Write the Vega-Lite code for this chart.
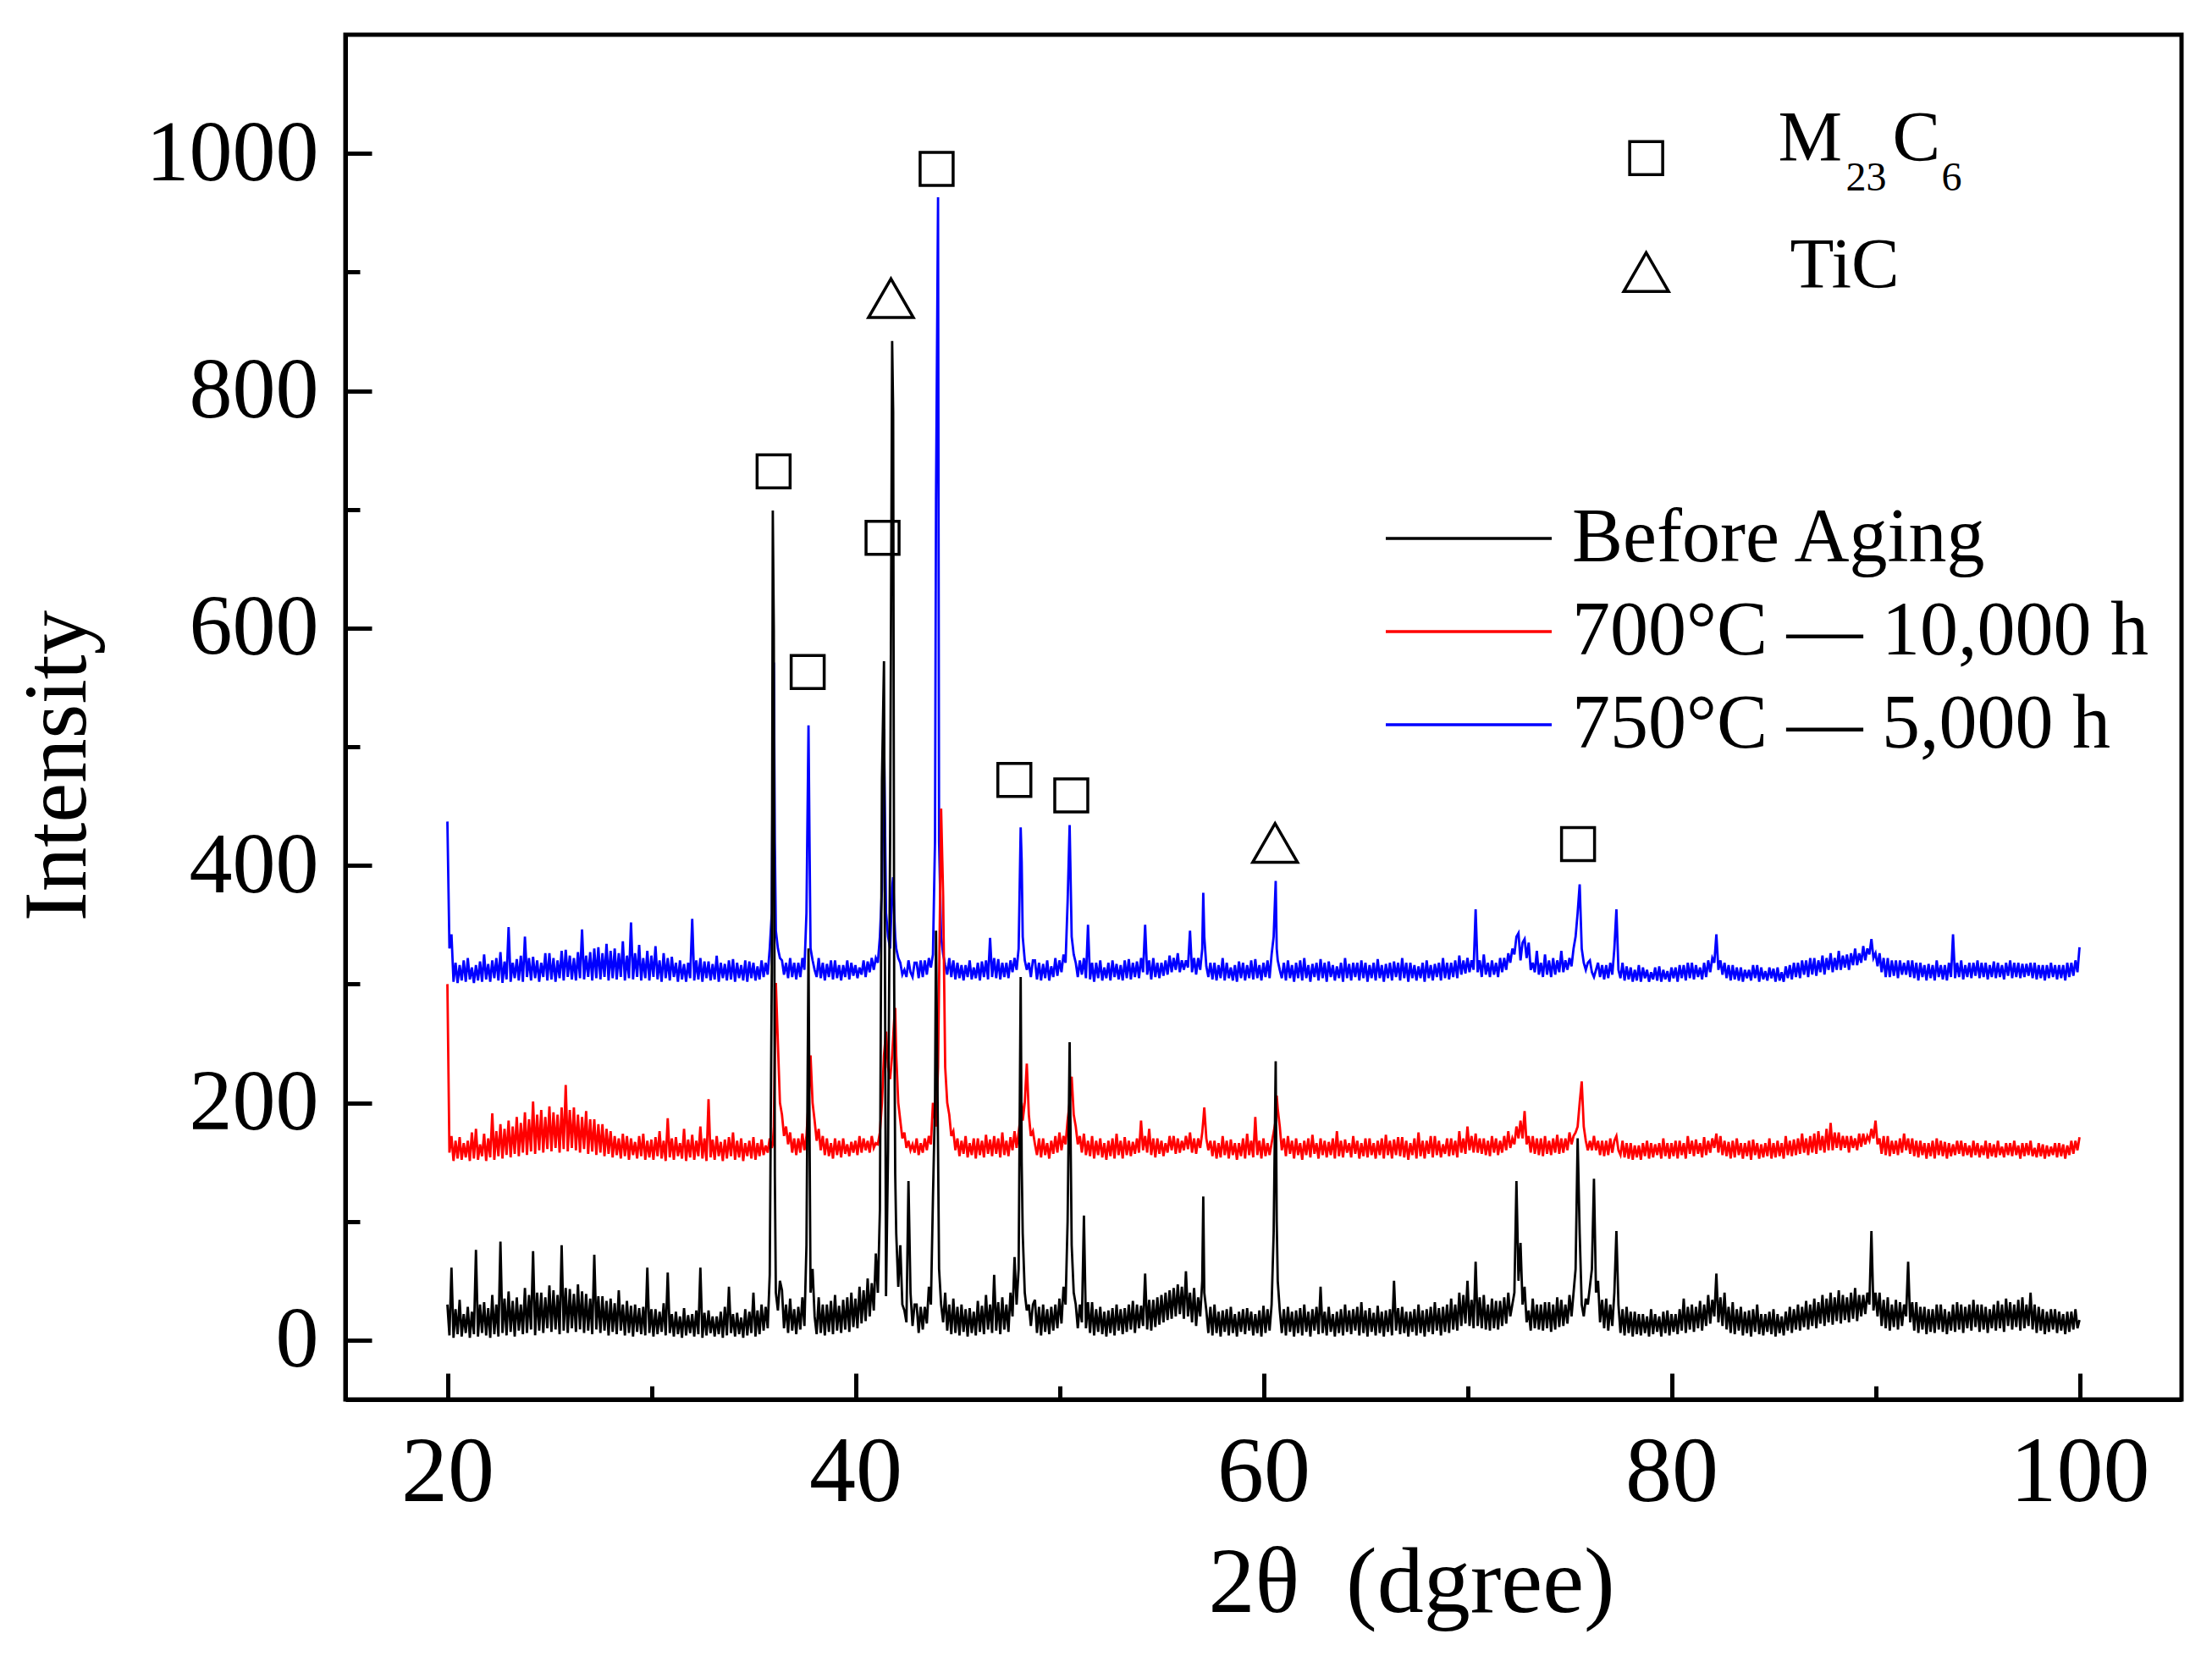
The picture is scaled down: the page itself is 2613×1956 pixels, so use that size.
{
  "$schema": "https://vega.github.io/schema/vega-lite/v6.json",
  "width": 2169,
  "height": 1612,
  "autosize": {"type": "none"},
  "padding": {"left": 408, "top": 41, "right": 36, "bottom": 303},
  "background": "white",
  "config": {
    "font": "Liberation Serif",
    "view": {"stroke": "black", "strokeWidth": 5},
    "axis": {
      "grid": false,
      "domainColor": "black",
      "domainWidth": 5,
      "tickColor": "black",
      "tickWidth": 5,
      "labelColor": "black",
      "labelFlush": false,
      "labelOverlap": false,
      "labelLimit": 0,
      "titleColor": "black",
      "titleFontWeight": "normal"
    }
  },
  "data": {
    "values": [
      {"t":20.0,"b":30,"r":300,"u":437},{"t":20.1,"b":4,"r":158,"u":330},{"t":20.2,"b":61,"r":172,"u":342},{"t":20.3,"b":2,"r":151,"u":302},{"t":20.4,"b":26,"r":168,"u":318},
      {"t":20.5,"b":5,"r":153,"u":301},{"t":20.6,"b":34,"r":171,"u":316},{"t":20.7,"b":3,"r":152,"u":303},{"t":20.8,"b":22,"r":166,"u":320},{"t":20.9,"b":6,"r":154,"u":302},
      {"t":21.0,"b":28,"r":168,"u":322},{"t":21.1,"b":2,"r":151,"u":304},{"t":21.2,"b":24,"r":175,"u":314},{"t":21.3,"b":5,"r":153,"u":301},{"t":21.4,"b":76,"r":178,"u":316},
      {"t":21.5,"b":3,"r":152,"u":303},{"t":21.6,"b":30,"r":165,"u":319},{"t":21.7,"b":6,"r":155,"u":302},{"t":21.8,"b":32,"r":174,"u":325},{"t":21.9,"b":4,"r":151,"u":304},
      {"t":22.0,"b":27,"r":170,"u":317},{"t":22.1,"b":2,"r":154,"u":302},{"t":22.2,"b":38,"r":191,"u":320},{"t":22.3,"b":5,"r":152,"u":305},{"t":22.4,"b":30,"r":176,"u":322},
      {"t":22.5,"b":3,"r":155,"u":303},{"t":22.6,"b":83,"r":182,"u":327},{"t":22.7,"b":6,"r":153,"u":301},{"t":22.8,"b":35,"r":178,"u":319},{"t":22.9,"b":4,"r":156,"u":304},
      {"t":23.0,"b":41,"r":185,"u":348},{"t":23.1,"b":7,"r":154,"u":302},{"t":23.2,"b":33,"r":180,"u":318},{"t":23.3,"b":3,"r":157,"u":305},{"t":23.4,"b":36,"r":188,"u":321},
      {"t":23.5,"b":8,"r":155,"u":303},{"t":23.6,"b":30,"r":183,"u":324},{"t":23.7,"b":5,"r":158,"u":302},{"t":23.8,"b":44,"r":192,"u":340},{"t":23.9,"b":6,"r":156,"u":306},
      {"t":24.0,"b":38,"r":186,"u":322},{"t":24.1,"b":9,"r":159,"u":303},{"t":24.2,"b":75,"r":201,"u":323},{"t":24.3,"b":4,"r":157,"u":305},{"t":24.4,"b":40,"r":190,"u":320},
      {"t":24.5,"b":8,"r":160,"u":302},{"t":24.6,"b":40,"r":194,"u":318},{"t":24.7,"b":6,"r":158,"u":306},{"t":24.8,"b":36,"r":188,"u":326},{"t":24.9,"b":10,"r":161,"u":303},
      {"t":25.0,"b":46,"r":197,"u":326},{"t":25.1,"b":7,"r":159,"u":304},{"t":25.2,"b":42,"r":192,"u":322},{"t":25.3,"b":9,"r":162,"u":302},{"t":25.4,"b":38,"r":190,"u":320},
      {"t":25.5,"b":5,"r":158,"u":305},{"t":25.6,"b":80,"r":196,"u":328},{"t":25.7,"b":8,"r":161,"u":303},{"t":25.8,"b":44,"r":215,"u":329},{"t":25.9,"b":6,"r":159,"u":306},
      {"t":26.0,"b":43,"r":194,"u":324},{"t":26.1,"b":10,"r":162,"u":304},{"t":26.2,"b":39,"r":196,"u":322},{"t":26.3,"b":7,"r":160,"u":303},{"t":26.4,"b":47,"r":190,"u":327},
      {"t":26.5,"b":9,"r":158,"u":305},{"t":26.6,"b":41,"r":188,"u":346},{"t":26.7,"b":6,"r":161,"u":304},{"t":26.8,"b":39,"r":193,"u":324},{"t":26.9,"b":8,"r":157,"u":306},
      {"t":27.0,"b":35,"r":186,"u":327},{"t":27.1,"b":5,"r":159,"u":303},{"t":27.2,"b":72,"r":186,"u":330},{"t":27.3,"b":9,"r":156,"u":305},{"t":27.4,"b":37,"r":182,"u":331},
      {"t":27.5,"b":6,"r":158,"u":304},{"t":27.6,"b":37,"r":182,"u":326},{"t":27.7,"b":8,"r":155,"u":306},{"t":27.8,"b":33,"r":178,"u":334},{"t":27.9,"b":4,"r":157,"u":303},
      {"t":28.0,"b":35,"r":176,"u":328},{"t":28.1,"b":7,"r":154,"u":305},{"t":28.2,"b":31,"r":172,"u":330},{"t":28.3,"b":5,"r":156,"u":304},{"t":28.4,"b":42,"r":170,"u":326},
      {"t":28.5,"b":8,"r":153,"u":306},{"t":28.6,"b":30,"r":174,"u":336},{"t":28.7,"b":4,"r":155,"u":303},{"t":28.8,"b":33,"r":172,"u":324},{"t":28.9,"b":6,"r":152,"u":305},
      {"t":29.0,"b":29,"r":170,"u":352},{"t":29.1,"b":3,"r":156,"u":304},{"t":29.2,"b":30,"r":167,"u":326},{"t":29.3,"b":7,"r":153,"u":306},{"t":29.4,"b":27,"r":172,"u":333},
      {"t":29.5,"b":5,"r":155,"u":303},{"t":29.6,"b":28,"r":174,"u":322},{"t":29.7,"b":4,"r":152,"u":305},{"t":29.8,"b":61,"r":168,"u":328},{"t":29.9,"b":6,"r":154,"u":303},
      {"t":30.0,"b":26,"r":169,"u":324},{"t":30.1,"b":3,"r":152,"u":306},{"t":30.2,"b":26,"r":171,"u":332},{"t":30.3,"b":5,"r":155,"u":304},{"t":30.4,"b":24,"r":176,"u":320},
      {"t":30.5,"b":7,"r":153,"u":302},{"t":30.6,"b":31,"r":168,"u":326},{"t":30.7,"b":4,"r":151,"u":305},{"t":30.8,"b":57,"r":187,"u":322},{"t":30.9,"b":6,"r":154,"u":303},
      {"t":31.0,"b":22,"r":170,"u":323},{"t":31.1,"b":3,"r":152,"u":306},{"t":31.2,"b":24,"r":171,"u":318},{"t":31.3,"b":5,"r":155,"u":302},{"t":31.4,"b":20,"r":166,"u":320},
      {"t":31.5,"b":2,"r":153,"u":304},{"t":31.6,"b":27,"r":178,"u":317},{"t":31.7,"b":4,"r":151,"u":302},{"t":31.8,"b":21,"r":169,"u":318},{"t":31.9,"b":6,"r":154,"u":305},
      {"t":32.0,"b":22,"r":173,"u":355},{"t":32.1,"b":3,"r":152,"u":303},{"t":32.2,"b":25,"r":168,"u":320},{"t":32.3,"b":5,"r":155,"u":304},{"t":32.4,"b":61,"r":180,"u":322},
      {"t":32.5,"b":2,"r":153,"u":302},{"t":32.6,"b":23,"r":170,"u":319},{"t":32.7,"b":4,"r":151,"u":305},{"t":32.8,"b":25,"r":203,"u":319},{"t":32.9,"b":6,"r":154,"u":303},
      {"t":33.0,"b":20,"r":169,"u":317},{"t":33.1,"b":3,"r":152,"u":304},{"t":33.2,"b":20,"r":172,"u":324},{"t":33.3,"b":5,"r":155,"u":302},{"t":33.4,"b":24,"r":167,"u":318},
      {"t":33.5,"b":2,"r":151,"u":305},{"t":33.6,"b":28,"r":169,"u":317},{"t":33.7,"b":4,"r":153,"u":303},{"t":33.8,"b":45,"r":171,"u":320},{"t":33.9,"b":6,"r":155,"u":304},
      {"t":34.0,"b":22,"r":175,"u":321},{"t":34.1,"b":3,"r":152,"u":302},{"t":34.2,"b":23,"r":168,"u":318},{"t":34.3,"b":5,"r":154,"u":305},{"t":34.4,"b":19,"r":170,"u":316},
      {"t":34.5,"b":2,"r":151,"u":303},{"t":34.6,"b":26,"r":166,"u":320},{"t":34.7,"b":4,"r":155,"u":302},{"t":34.8,"b":24,"r":168,"u":319},{"t":34.9,"b":6,"r":153,"u":305},
      {"t":35.0,"b":40,"r":171,"u":318},{"t":35.1,"b":3,"r":152,"u":303},{"t":35.2,"b":25,"r":166,"u":315},{"t":35.3,"b":5,"r":155,"u":304},{"t":35.4,"b":30,"r":169,"u":320},
      {"t":35.5,"b":8,"r":156,"u":306},{"t":35.6,"b":28,"r":164,"u":318},{"t":35.7,"b":10,"r":158,"u":308},{"t":35.8,"b":55,"r":170,"u":330},{"t":35.9,"b":310,"r":162,"u":360},
      {"t":35.95,"b":699,"r":165,"u":500},{"t":36.0,"b":598,"r":180,"u":571},{"t":36.05,"b":140,"r":240,"u":420},{"t":36.1,"b":40,"r":301,"u":345},{"t":36.2,"b":25,"r":250,"u":330},
      {"t":36.3,"b":50,"r":200,"u":322},{"t":36.4,"b":42,"r":190,"u":320},{"t":36.5,"b":10,"r":172,"u":308},{"t":36.6,"b":30,"r":180,"u":318},{"t":36.7,"b":6,"r":165,"u":305},
      {"t":36.8,"b":35,"r":175,"u":322},{"t":36.9,"b":8,"r":158,"u":306},{"t":37.0,"b":26,"r":170,"u":318},{"t":37.1,"b":5,"r":156,"u":304},{"t":37.2,"b":28,"r":170,"u":318},
      {"t":37.3,"b":9,"r":158,"u":306},{"t":37.4,"b":36,"r":174,"u":322},{"t":37.5,"b":12,"r":160,"u":312},{"t":37.6,"b":80,"r":172,"u":360},{"t":37.7,"b":330,"r":200,"u":518},
      {"t":37.75,"b":180,"r":215,"u":420},{"t":37.8,"b":40,"r":240,"u":330},{"t":37.9,"b":60,"r":200,"u":320},{"t":38.0,"b":20,"r":185,"u":312},{"t":38.1,"b":5,"r":168,"u":306},
      {"t":38.2,"b":36,"r":178,"u":322},{"t":38.3,"b":6,"r":160,"u":305},{"t":38.4,"b":30,"r":172,"u":318},{"t":38.5,"b":4,"r":156,"u":303},{"t":38.6,"b":30,"r":170,"u":317},
      {"t":38.7,"b":7,"r":155,"u":306},{"t":38.8,"b":33,"r":166,"u":320},{"t":38.9,"b":5,"r":153,"u":304},{"t":39.0,"b":38,"r":170,"u":320},{"t":39.1,"b":8,"r":156,"u":305},
      {"t":39.2,"b":29,"r":168,"u":316},{"t":39.3,"b":6,"r":154,"u":303},{"t":39.4,"b":34,"r":170,"u":316},{"t":39.5,"b":9,"r":157,"u":306},{"t":39.6,"b":36,"r":165,"u":320},
      {"t":39.7,"b":7,"r":155,"u":304},{"t":39.8,"b":40,"r":167,"u":318},{"t":39.9,"b":11,"r":158,"u":307},{"t":40.0,"b":35,"r":168,"u":316},{"t":40.1,"b":10,"r":156,"u":305},
      {"t":40.2,"b":45,"r":172,"u":314},{"t":40.3,"b":14,"r":158,"u":308},{"t":40.4,"b":42,"r":170,"u":320},{"t":40.5,"b":16,"r":160,"u":306},{"t":40.6,"b":52,"r":168,"u":319},
      {"t":40.7,"b":20,"r":158,"u":310},{"t":40.8,"b":48,"r":172,"u":322},{"t":40.9,"b":25,"r":162,"u":312},{"t":41.0,"b":73,"r":166,"u":322},{"t":41.1,"b":40,"r":165,"u":318},
      {"t":41.2,"b":110,"r":175,"u":340},{"t":41.3,"b":471,"r":200,"u":380},{"t":41.4,"b":572,"r":240,"u":515},{"t":41.5,"b":37,"r":260,"u":360},{"t":41.6,"b":160,"r":230,"u":340},
      {"t":41.7,"b":420,"r":220,"u":330},{"t":41.8,"b":842,"r":240,"u":381},{"t":41.85,"b":782,"r":255,"u":390},{"t":41.9,"b":300,"r":270,"u":360},{"t":41.95,"b":140,"r":280,"u":340},
      {"t":42.0,"b":90,"r":240,"u":330},{"t":42.1,"b":45,"r":200,"u":322},{"t":42.2,"b":80,"r":185,"u":318},{"t":42.3,"b":30,"r":170,"u":308},{"t":42.4,"b":25,"r":175,"u":312},
      {"t":42.5,"b":15,"r":162,"u":306},{"t":42.6,"b":134,"r":168,"u":320},{"t":42.7,"b":40,"r":160,"u":310},{"t":42.8,"b":12,"r":165,"u":306},{"t":42.9,"b":30,"r":158,"u":318},
      {"t":43.0,"b":30,"r":170,"u":318},{"t":43.1,"b":6,"r":156,"u":305},{"t":43.2,"b":28,"r":166,"u":320},{"t":43.3,"b":9,"r":158,"u":306},{"t":43.4,"b":28,"r":170,"u":320},
      {"t":43.5,"b":14,"r":160,"u":308},{"t":43.6,"b":45,"r":172,"u":322},{"t":43.7,"b":30,"r":165,"u":314},{"t":43.8,"b":120,"r":200,"u":325},{"t":43.9,"b":200,"r":185,"u":420},
      {"t":43.95,"b":345,"r":180,"u":709},{"t":44.05,"b":160,"r":230,"u":963},{"t":44.1,"b":60,"r":300,"u":420},{"t":44.2,"b":30,"r":448,"u":340},{"t":44.3,"b":15,"r":374,"u":325},
      {"t":44.4,"b":40,"r":230,"u":316},{"t":44.5,"b":8,"r":200,"u":308},{"t":44.6,"b":30,"r":190,"u":322},{"t":44.7,"b":5,"r":172,"u":306},{"t":44.8,"b":35,"r":176,"u":320},
      {"t":44.9,"b":6,"r":160,"u":304},{"t":45.0,"b":28,"r":170,"u":318},{"t":45.1,"b":4,"r":155,"u":305},{"t":45.2,"b":30,"r":168,"u":316},{"t":45.3,"b":7,"r":157,"u":303},
      {"t":45.4,"b":26,"r":172,"u":316},{"t":45.5,"b":3,"r":154,"u":306},{"t":45.6,"b":27,"r":166,"u":320},{"t":45.7,"b":6,"r":156,"u":304},{"t":45.8,"b":24,"r":170,"u":314},
      {"t":45.9,"b":4,"r":153,"u":305},{"t":46.0,"b":33,"r":170,"u":318},{"t":46.1,"b":7,"r":156,"u":303},{"t":46.2,"b":29,"r":168,"u":319},{"t":46.3,"b":5,"r":154,"u":306},
      {"t":46.4,"b":38,"r":173,"u":320},{"t":46.5,"b":9,"r":157,"u":304},{"t":46.6,"b":30,"r":169,"u":339},{"t":46.7,"b":6,"r":155,"u":306},{"t":46.8,"b":55,"r":172,"u":322},
      {"t":46.9,"b":8,"r":157,"u":305},{"t":47.0,"b":32,"r":170,"u":321},{"t":47.1,"b":5,"r":154,"u":304},{"t":47.2,"b":36,"r":175,"u":318},{"t":47.3,"b":9,"r":156,"u":306},
      {"t":47.4,"b":30,"r":168,"u":318},{"t":47.5,"b":7,"r":155,"u":305},{"t":47.6,"b":40,"r":171,"u":320},{"t":47.7,"b":20,"r":160,"u":310},{"t":47.8,"b":70,"r":176,"u":322},
      {"t":47.9,"b":30,"r":162,"u":312},{"t":48.0,"b":60,"r":175,"u":330},{"t":48.1,"b":306,"r":190,"u":432},{"t":48.15,"b":150,"r":200,"u":403},{"t":48.2,"b":90,"r":185,"u":340},
      {"t":48.3,"b":40,"r":200,"u":320},{"t":48.4,"b":25,"r":233,"u":312},{"t":48.5,"b":30,"r":190,"u":318},{"t":48.6,"b":12,"r":172,"u":306},{"t":48.7,"b":30,"r":176,"u":320},
      {"t":48.8,"b":34,"r":165,"u":320},{"t":48.9,"b":6,"r":156,"u":304},{"t":49.0,"b":28,"r":170,"u":318},{"t":49.1,"b":4,"r":154,"u":303},{"t":49.2,"b":30,"r":170,"u":317},
      {"t":49.3,"b":7,"r":156,"u":305},{"t":49.4,"b":26,"r":166,"u":320},{"t":49.5,"b":5,"r":153,"u":303},{"t":49.6,"b":28,"r":168,"u":315},{"t":49.7,"b":8,"r":157,"u":306},
      {"t":49.8,"b":30,"r":172,"u":322},{"t":49.9,"b":10,"r":158,"u":307},{"t":50.0,"b":35,"r":175,"u":320},{"t":50.1,"b":14,"r":160,"u":310},{"t":50.2,"b":45,"r":172,"u":325},
      {"t":50.3,"b":30,"r":165,"u":318},{"t":50.4,"b":100,"r":185,"u":369},{"t":50.5,"b":251,"r":200,"u":434},{"t":50.6,"b":80,"r":222,"u":340},{"t":50.7,"b":40,"r":190,"u":325},
      {"t":50.8,"b":30,"r":180,"u":318},{"t":50.9,"b":10,"r":165,"u":306},{"t":51.0,"b":30,"r":172,"u":320},{"t":51.1,"b":15,"r":158,"u":308},{"t":51.2,"b":105,"r":174,"u":322},
      {"t":51.3,"b":10,"r":156,"u":305},{"t":51.4,"b":32,"r":168,"u":350},{"t":51.5,"b":6,"r":155,"u":304},{"t":51.6,"b":32,"r":172,"u":318},{"t":51.7,"b":4,"r":153,"u":302},
      {"t":51.8,"b":26,"r":168,"u":318},{"t":51.9,"b":7,"r":156,"u":305},{"t":52.0,"b":28,"r":170,"u":320},{"t":52.1,"b":5,"r":154,"u":303},{"t":52.2,"b":24,"r":166,"u":314},
      {"t":52.3,"b":3,"r":152,"u":305},{"t":52.4,"b":25,"r":168,"u":318},{"t":52.5,"b":6,"r":155,"u":303},{"t":52.6,"b":27,"r":170,"u":320},{"t":52.7,"b":4,"r":153,"u":306},
      {"t":52.8,"b":30,"r":174,"u":317},{"t":52.9,"b":8,"r":156,"u":304},{"t":53.0,"b":26,"r":168,"u":316},{"t":53.1,"b":5,"r":153,"u":303},{"t":53.2,"b":27,"r":171,"u":320},
      {"t":53.3,"b":7,"r":156,"u":305},{"t":53.4,"b":30,"r":168,"u":321},{"t":53.5,"b":9,"r":155,"u":304},{"t":53.6,"b":33,"r":167,"u":318},{"t":53.7,"b":6,"r":157,"u":306},
      {"t":53.8,"b":30,"r":170,"u":319},{"t":53.9,"b":10,"r":158,"u":305},{"t":54.0,"b":29,"r":185,"u":322},{"t":54.1,"b":12,"r":160,"u":310},{"t":54.2,"b":56,"r":172,"u":350},
      {"t":54.3,"b":9,"r":158,"u":308},{"t":54.4,"b":34,"r":178,"u":320},{"t":54.5,"b":8,"r":156,"u":304},{"t":54.6,"b":34,"r":170,"u":322},{"t":54.7,"b":11,"r":154,"u":306},
      {"t":54.8,"b":36,"r":170,"u":318},{"t":54.9,"b":13,"r":157,"u":305},{"t":55.0,"b":38,"r":168,"u":318},{"t":55.1,"b":15,"r":155,"u":307},{"t":55.2,"b":40,"r":166,"u":320},
      {"t":55.3,"b":17,"r":158,"u":308},{"t":55.4,"b":42,"r":172,"u":324},{"t":55.5,"b":18,"r":160,"u":310},{"t":55.6,"b":44,"r":172,"u":322},{"t":55.7,"b":20,"r":157,"u":312},
      {"t":55.8,"b":47,"r":170,"u":326},{"t":55.9,"b":22,"r":158,"u":310},{"t":56.0,"b":45,"r":168,"u":320},{"t":56.1,"b":18,"r":160,"u":312},{"t":56.2,"b":58,"r":172,"u":320},
      {"t":56.3,"b":20,"r":161,"u":314},{"t":56.4,"b":40,"r":175,"u":345},{"t":56.5,"b":15,"r":158,"u":310},{"t":56.6,"b":44,"r":170,"u":322},{"t":56.7,"b":12,"r":157,"u":308},
      {"t":56.8,"b":36,"r":170,"u":322},{"t":56.9,"b":20,"r":162,"u":312},{"t":57.0,"b":50,"r":175,"u":330},{"t":57.05,"b":121,"r":185,"u":377},{"t":57.1,"b":40,"r":196,"u":340},
      {"t":57.2,"b":25,"r":170,"u":315},{"t":57.3,"b":6,"r":160,"u":306},{"t":57.4,"b":28,"r":168,"u":318},{"t":57.5,"b":4,"r":155,"u":304},{"t":57.6,"b":30,"r":168,"u":318},
      {"t":57.7,"b":6,"r":153,"u":303},{"t":57.8,"b":24,"r":166,"u":316},{"t":57.9,"b":3,"r":154,"u":305},{"t":58.0,"b":25,"r":172,"u":322},{"t":58.1,"b":7,"r":156,"u":303},
      {"t":58.2,"b":26,"r":168,"u":318},{"t":58.3,"b":4,"r":153,"u":305},{"t":58.4,"b":28,"r":169,"u":314},{"t":58.5,"b":6,"r":156,"u":303},{"t":58.6,"b":22,"r":166,"u":316},
      {"t":58.7,"b":3,"r":152,"u":302},{"t":58.8,"b":24,"r":166,"u":319},{"t":58.9,"b":7,"r":155,"u":305},{"t":59.0,"b":26,"r":170,"u":318},{"t":59.1,"b":5,"r":153,"u":303},
      {"t":59.2,"b":27,"r":174,"u":316},{"t":59.3,"b":8,"r":156,"u":305},{"t":59.4,"b":24,"r":168,"u":320},{"t":59.5,"b":4,"r":154,"u":304},{"t":59.6,"b":22,"r":188,"u":321},
      {"t":59.7,"b":6,"r":156,"u":305},{"t":59.8,"b":25,"r":168,"u":316},{"t":59.9,"b":3,"r":153,"u":303},{"t":60.0,"b":29,"r":170,"u":318},{"t":60.1,"b":6,"r":155,"u":306},
      {"t":60.2,"b":26,"r":166,"u":320},{"t":60.3,"b":8,"r":156,"u":305},{"t":60.4,"b":30,"r":166,"u":325},{"t":60.5,"b":90,"r":175,"u":340},{"t":60.6,"b":235,"r":185,"u":387},
      {"t":60.65,"b":100,"r":206,"u":330},{"t":60.7,"b":50,"r":195,"u":320},{"t":60.8,"b":25,"r":180,"u":312},{"t":60.9,"b":6,"r":160,"u":305},{"t":61.0,"b":26,"r":170,"u":318},
      {"t":61.1,"b":4,"r":155,"u":303},{"t":61.2,"b":28,"r":172,"u":320},{"t":61.3,"b":7,"r":157,"u":305},{"t":61.4,"b":24,"r":168,"u":316},{"t":61.5,"b":3,"r":153,"u":302},
      {"t":61.6,"b":25,"r":170,"u":318},{"t":61.7,"b":6,"r":156,"u":305},{"t":61.8,"b":27,"r":166,"u":320},{"t":61.9,"b":4,"r":152,"u":303},{"t":62.0,"b":30,"r":168,"u":322},
      {"t":62.1,"b":7,"r":156,"u":305},{"t":62.2,"b":24,"r":170,"u":316},{"t":62.3,"b":3,"r":154,"u":302},{"t":62.4,"b":26,"r":173,"u":317},{"t":62.5,"b":8,"r":157,"u":306},
      {"t":62.6,"b":28,"r":166,"u":318},{"t":62.7,"b":5,"r":153,"u":303},{"t":62.8,"b":45,"r":170,"u":321},{"t":62.9,"b":6,"r":156,"u":305},{"t":63.0,"b":24,"r":168,"u":318},
      {"t":63.1,"b":4,"r":154,"u":302},{"t":63.2,"b":28,"r":167,"u":319},{"t":63.3,"b":7,"r":156,"u":306},{"t":63.4,"b":22,"r":170,"u":316},{"t":63.5,"b":3,"r":153,"u":303},
      {"t":63.6,"b":24,"r":176,"u":315},{"t":63.7,"b":6,"r":155,"u":305},{"t":63.8,"b":26,"r":168,"u":318},{"t":63.9,"b":4,"r":154,"u":302},{"t":64.0,"b":30,"r":169,"u":322},
      {"t":64.1,"b":7,"r":158,"u":305},{"t":64.2,"b":25,"r":166,"u":317},{"t":64.3,"b":5,"r":154,"u":303},{"t":64.4,"b":26,"r":172,"u":318},{"t":64.5,"b":8,"r":157,"u":306},
      {"t":64.6,"b":28,"r":168,"u":318},{"t":64.7,"b":4,"r":153,"u":303},{"t":64.8,"b":32,"r":166,"u":320},{"t":64.9,"b":6,"r":155,"u":305},{"t":65.0,"b":25,"r":170,"u":318},
      {"t":65.1,"b":3,"r":154,"u":302},{"t":65.2,"b":27,"r":170,"u":316},{"t":65.3,"b":7,"r":156,"u":305},{"t":65.4,"b":23,"r":166,"u":318},{"t":65.5,"b":4,"r":153,"u":303},
      {"t":65.6,"b":29,"r":168,"u":321},{"t":65.7,"b":6,"r":156,"u":305},{"t":65.8,"b":24,"r":170,"u":316},{"t":65.9,"b":3,"r":153,"u":302},{"t":66.0,"b":25,"r":173,"u":317},
      {"t":66.1,"b":7,"r":156,"u":305},{"t":66.2,"b":26,"r":168,"u":318},{"t":66.3,"b":4,"r":153,"u":303},{"t":66.4,"b":50,"r":169,"u":319},{"t":66.5,"b":8,"r":156,"u":306},
      {"t":66.6,"b":27,"r":171,"u":318},{"t":66.7,"b":5,"r":155,"u":303},{"t":66.8,"b":28,"r":171,"u":322},{"t":66.9,"b":6,"r":154,"u":305},{"t":67.0,"b":24,"r":168,"u":318},
      {"t":67.1,"b":3,"r":152,"u":302},{"t":67.2,"b":24,"r":166,"u":318},{"t":67.3,"b":7,"r":156,"u":305},{"t":67.4,"b":26,"r":170,"u":316},{"t":67.5,"b":4,"r":153,"u":303},
      {"t":67.6,"b":30,"r":175,"u":315},{"t":67.7,"b":6,"r":155,"u":305},{"t":67.8,"b":25,"r":168,"u":318},{"t":67.9,"b":3,"r":153,"u":302},{"t":68.0,"b":26,"r":168,"u":320},
      {"t":68.1,"b":7,"r":157,"u":305},{"t":68.2,"b":28,"r":172,"u":316},{"t":68.3,"b":5,"r":154,"u":303},{"t":68.4,"b":32,"r":172,"u":317},{"t":68.5,"b":8,"r":156,"u":306},
      {"t":68.6,"b":27,"r":168,"u":318},{"t":68.7,"b":4,"r":154,"u":303},{"t":68.8,"b":28,"r":165,"u":322},{"t":68.9,"b":7,"r":157,"u":305},{"t":69.0,"b":30,"r":170,"u":318},
      {"t":69.1,"b":6,"r":155,"u":304},{"t":69.2,"b":35,"r":170,"u":318},{"t":69.3,"b":9,"r":156,"u":306},{"t":69.4,"b":30,"r":168,"u":320},{"t":69.5,"b":8,"r":154,"u":305},
      {"t":69.6,"b":40,"r":176,"u":324},{"t":69.7,"b":12,"r":158,"u":308},{"t":69.8,"b":38,"r":170,"u":320},{"t":69.9,"b":14,"r":157,"u":309},{"t":70.0,"b":50,"r":180,"u":322},
      {"t":70.1,"b":12,"r":160,"u":310},{"t":70.2,"b":34,"r":172,"u":320},{"t":70.3,"b":10,"r":158,"u":312},{"t":70.4,"b":66,"r":174,"u":363},{"t":70.5,"b":12,"r":158,"u":310},
      {"t":70.6,"b":36,"r":170,"u":320},{"t":70.7,"b":10,"r":157,"u":306},{"t":70.8,"b":38,"r":170,"u":325},{"t":70.9,"b":9,"r":156,"u":308},{"t":71.0,"b":30,"r":168,"u":318},
      {"t":71.1,"b":8,"r":155,"u":306},{"t":71.2,"b":35,"r":172,"u":320},{"t":71.3,"b":10,"r":158,"u":308},{"t":71.4,"b":33,"r":170,"u":318},{"t":71.5,"b":9,"r":156,"u":306},
      {"t":71.6,"b":33,"r":168,"u":322},{"t":71.7,"b":12,"r":158,"u":310},{"t":71.8,"b":36,"r":172,"u":322},{"t":71.9,"b":14,"r":160,"u":312},{"t":72.0,"b":40,"r":176,"u":326},
      {"t":72.1,"b":20,"r":162,"u":318},{"t":72.2,"b":30,"r":170,"u":330},{"t":72.3,"b":40,"r":165,"u":325},{"t":72.4,"b":134,"r":180,"u":340},{"t":72.5,"b":50,"r":170,"u":343},
      {"t":72.6,"b":82,"r":185,"u":320},{"t":72.7,"b":30,"r":170,"u":335},{"t":72.8,"b":45,"r":193,"u":338},{"t":72.9,"b":15,"r":165,"u":322},{"t":73.0,"b":25,"r":172,"u":335},
      {"t":73.1,"b":8,"r":158,"u":312},{"t":73.2,"b":35,"r":172,"u":318},{"t":73.3,"b":10,"r":157,"u":310},{"t":73.4,"b":30,"r":170,"u":328},{"t":73.5,"b":9,"r":156,"u":308},
      {"t":73.6,"b":30,"r":170,"u":318},{"t":73.7,"b":8,"r":155,"u":306},{"t":73.8,"b":32,"r":172,"u":325},{"t":73.9,"b":10,"r":157,"u":308},{"t":74.0,"b":32,"r":168,"u":320},
      {"t":74.1,"b":7,"r":156,"u":306},{"t":74.2,"b":30,"r":170,"u":322},{"t":74.3,"b":9,"r":158,"u":308},{"t":74.4,"b":36,"r":173,"u":320},{"t":74.5,"b":11,"r":157,"u":310},
      {"t":74.6,"b":34,"r":170,"u":328},{"t":74.7,"b":12,"r":158,"u":310},{"t":74.8,"b":30,"r":170,"u":320},{"t":74.9,"b":14,"r":160,"u":312},{"t":75.0,"b":38,"r":175,"u":322},
      {"t":75.1,"b":20,"r":165,"u":315},{"t":75.2,"b":40,"r":172,"u":330},{"t":75.3,"b":60,"r":175,"u":340},{"t":75.4,"b":170,"r":180,"u":360},{"t":75.5,"b":90,"r":200,"u":384},
      {"t":75.6,"b":30,"r":218,"u":330},{"t":75.7,"b":20,"r":180,"u":318},{"t":75.8,"b":35,"r":168,"u":312},{"t":75.9,"b":30,"r":160,"u":318},{"t":76.0,"b":45,"r":168,"u":320},
      {"t":76.1,"b":60,"r":160,"u":310},{"t":76.2,"b":136,"r":172,"u":306},{"t":76.3,"b":40,"r":160,"u":312},{"t":76.4,"b":50,"r":168,"u":318},{"t":76.5,"b":15,"r":156,"u":306},
      {"t":76.6,"b":34,"r":168,"u":316},{"t":76.7,"b":10,"r":155,"u":304},{"t":76.8,"b":35,"r":168,"u":316},{"t":76.9,"b":8,"r":156,"u":305},{"t":77.0,"b":30,"r":170,"u":318},
      {"t":77.1,"b":12,"r":158,"u":308},{"t":77.2,"b":40,"r":168,"u":330},{"t":77.3,"b":92,"r":172,"u":363},{"t":77.4,"b":30,"r":160,"u":312},{"t":77.5,"b":6,"r":156,"u":305},
      {"t":77.6,"b":26,"r":168,"u":318},{"t":77.7,"b":4,"r":154,"u":303},{"t":77.8,"b":28,"r":166,"u":315},{"t":77.9,"b":6,"r":153,"u":304},{"t":78.0,"b":24,"r":166,"u":314},
      {"t":78.1,"b":3,"r":152,"u":302},{"t":78.2,"b":24,"r":164,"u":312},{"t":78.3,"b":5,"r":154,"u":303},{"t":78.4,"b":22,"r":164,"u":316},{"t":78.5,"b":4,"r":152,"u":302},
      {"t":78.6,"b":22,"r":166,"u":314},{"t":78.7,"b":6,"r":155,"u":305},{"t":78.8,"b":20,"r":168,"u":312},{"t":78.9,"b":3,"r":153,"u":302},{"t":79.0,"b":26,"r":166,"u":310},
      {"t":79.1,"b":5,"r":154,"u":304},{"t":79.2,"b":22,"r":165,"u":314},{"t":79.3,"b":7,"r":156,"u":303},{"t":79.4,"b":20,"r":166,"u":315},{"t":79.5,"b":3,"r":153,"u":302},
      {"t":79.6,"b":24,"r":170,"u":312},{"t":79.7,"b":6,"r":155,"u":304},{"t":79.8,"b":25,"r":166,"u":311},{"t":79.9,"b":4,"r":153,"u":302},{"t":80.0,"b":22,"r":166,"u":314},
      {"t":80.1,"b":7,"r":155,"u":305},{"t":80.2,"b":22,"r":168,"u":314},{"t":80.3,"b":5,"r":153,"u":302},{"t":80.4,"b":26,"r":168,"u":316},{"t":80.5,"b":8,"r":156,"u":305},
      {"t":80.6,"b":35,"r":166,"u":316},{"t":80.7,"b":6,"r":153,"u":303},{"t":80.8,"b":28,"r":172,"u":318},{"t":80.9,"b":9,"r":157,"u":305},{"t":81.0,"b":30,"r":168,"u":318},
      {"t":81.1,"b":7,"r":155,"u":304},{"t":81.2,"b":28,"r":169,"u":316},{"t":81.3,"b":10,"r":157,"u":306},{"t":81.4,"b":33,"r":166,"u":314},{"t":81.5,"b":8,"r":154,"u":304},
      {"t":81.6,"b":30,"r":171,"u":318},{"t":81.7,"b":12,"r":156,"u":306},{"t":81.8,"b":38,"r":168,"u":320},{"t":81.9,"b":14,"r":158,"u":310},{"t":82.0,"b":34,"r":170,"u":322},
      {"t":82.1,"b":20,"r":162,"u":318},{"t":82.2,"b":56,"r":174,"u":342},{"t":82.3,"b":15,"r":158,"u":312},{"t":82.4,"b":36,"r":172,"u":320},{"t":82.5,"b":12,"r":156,"u":308},
      {"t":82.6,"b":40,"r":168,"u":318},{"t":82.7,"b":9,"r":155,"u":305},{"t":82.8,"b":28,"r":167,"u":316},{"t":82.9,"b":6,"r":153,"u":303},{"t":83.0,"b":32,"r":168,"u":316},
      {"t":83.1,"b":5,"r":154,"u":304},{"t":83.2,"b":26,"r":170,"u":314},{"t":83.3,"b":8,"r":156,"u":303},{"t":83.4,"b":28,"r":166,"u":314},{"t":83.5,"b":4,"r":153,"u":302},
      {"t":83.6,"b":24,"r":166,"u":312},{"t":83.7,"b":6,"r":155,"u":305},{"t":83.8,"b":25,"r":168,"u":312},{"t":83.9,"b":3,"r":152,"u":303},{"t":84.0,"b":26,"r":169,"u":316},
      {"t":84.1,"b":7,"r":156,"u":305},{"t":84.2,"b":30,"r":166,"u":316},{"t":84.3,"b":5,"r":153,"u":302},{"t":84.4,"b":22,"r":165,"u":314},{"t":84.5,"b":4,"r":154,"u":304},
      {"t":84.6,"b":22,"r":166,"u":311},{"t":84.7,"b":7,"r":155,"u":303},{"t":84.8,"b":24,"r":170,"u":314},{"t":84.9,"b":5,"r":153,"u":305},{"t":85.0,"b":26,"r":166,"u":313},
      {"t":85.1,"b":3,"r":154,"u":302},{"t":85.2,"b":22,"r":168,"u":314},{"t":85.3,"b":6,"r":155,"u":303},{"t":85.4,"b":20,"r":166,"u":310},{"t":85.5,"b":4,"r":153,"u":302},
      {"t":85.6,"b":24,"r":172,"u":315},{"t":85.7,"b":8,"r":156,"u":305},{"t":85.8,"b":28,"r":168,"u":316},{"t":85.9,"b":6,"r":155,"u":304},{"t":86.0,"b":26,"r":169,"u":318},
      {"t":86.1,"b":9,"r":156,"u":306},{"t":86.2,"b":30,"r":170,"u":318},{"t":86.3,"b":8,"r":157,"u":305},{"t":86.4,"b":28,"r":174,"u":320},{"t":86.5,"b":11,"r":158,"u":308},
      {"t":86.6,"b":33,"r":170,"u":320},{"t":86.7,"b":9,"r":156,"u":306},{"t":86.8,"b":30,"r":172,"u":322},{"t":86.9,"b":12,"r":158,"u":308},{"t":87.0,"b":35,"r":174,"u":322},
      {"t":87.1,"b":10,"r":157,"u":307},{"t":87.2,"b":32,"r":176,"u":320},{"t":87.3,"b":14,"r":160,"u":310},{"t":87.4,"b":38,"r":172,"u":324},{"t":87.5,"b":12,"r":158,"u":308},
      {"t":87.6,"b":35,"r":178,"u":322},{"t":87.7,"b":15,"r":160,"u":312},{"t":87.8,"b":40,"r":183,"u":326},{"t":87.9,"b":13,"r":160,"u":310},{"t":88.0,"b":36,"r":175,"u":322},
      {"t":88.1,"b":16,"r":162,"u":312},{"t":88.2,"b":42,"r":175,"u":328},{"t":88.3,"b":14,"r":160,"u":312},{"t":88.4,"b":38,"r":172,"u":324},{"t":88.5,"b":17,"r":162,"u":314},
      {"t":88.6,"b":36,"r":172,"u":325},{"t":88.7,"b":15,"r":158,"u":312},{"t":88.8,"b":40,"r":172,"u":326},{"t":88.9,"b":18,"r":162,"u":316},{"t":89.0,"b":44,"r":170,"u":330},
      {"t":89.1,"b":16,"r":160,"u":316},{"t":89.2,"b":38,"r":174,"u":326},{"t":89.3,"b":20,"r":163,"u":318},{"t":89.4,"b":38,"r":174,"u":332},{"t":89.5,"b":22,"r":165,"u":320},
      {"t":89.6,"b":40,"r":172,"u":330},{"t":89.7,"b":30,"r":168,"u":325},{"t":89.8,"b":92,"r":178,"u":338},{"t":89.9,"b":25,"r":170,"u":322},{"t":90.0,"b":40,"r":185,"u":326},
      {"t":90.1,"b":20,"r":165,"u":315},{"t":90.2,"b":40,"r":170,"u":326},{"t":90.3,"b":12,"r":157,"u":310},{"t":90.4,"b":34,"r":172,"u":322},{"t":90.5,"b":10,"r":156,"u":306},
      {"t":90.6,"b":36,"r":172,"u":322},{"t":90.7,"b":8,"r":155,"u":306},{"t":90.8,"b":30,"r":168,"u":320},{"t":90.9,"b":11,"r":157,"u":307},{"t":91.0,"b":34,"r":168,"u":320},
      {"t":91.1,"b":9,"r":156,"u":305},{"t":91.2,"b":32,"r":170,"u":320},{"t":91.3,"b":12,"r":158,"u":308},{"t":91.4,"b":30,"r":174,"u":318},{"t":91.5,"b":20,"r":160,"u":308},
      {"t":91.6,"b":66,"r":170,"u":320},{"t":91.7,"b":15,"r":157,"u":306},{"t":91.8,"b":32,"r":170,"u":320},{"t":91.9,"b":8,"r":155,"u":305},{"t":92.0,"b":32,"r":168,"u":318},
      {"t":92.1,"b":6,"r":154,"u":303},{"t":92.2,"b":28,"r":168,"u":318},{"t":92.3,"b":9,"r":156,"u":306},{"t":92.4,"b":28,"r":166,"u":316},{"t":92.5,"b":5,"r":153,"u":303},
      {"t":92.6,"b":26,"r":166,"u":317},{"t":92.7,"b":7,"r":155,"u":305},{"t":92.8,"b":26,"r":168,"u":316},{"t":92.9,"b":6,"r":153,"u":303},{"t":93.0,"b":30,"r":170,"u":320},
      {"t":93.1,"b":9,"r":156,"u":306},{"t":93.2,"b":30,"r":168,"u":316},{"t":93.3,"b":7,"r":155,"u":304},{"t":93.4,"b":26,"r":167,"u":316},{"t":93.5,"b":5,"r":153,"u":303},
      {"t":93.6,"b":24,"r":166,"u":318},{"t":93.7,"b":8,"r":155,"u":306},{"t":93.8,"b":30,"r":165,"u":342},{"t":93.9,"b":7,"r":156,"u":305},{"t":94.0,"b":32,"r":168,"u":318},
      {"t":94.1,"b":9,"r":157,"u":306},{"t":94.2,"b":30,"r":168,"u":320},{"t":94.3,"b":6,"r":155,"u":304},{"t":94.4,"b":28,"r":166,"u":316},{"t":94.5,"b":10,"r":156,"u":306},
      {"t":94.6,"b":30,"r":164,"u":318},{"t":94.7,"b":8,"r":154,"u":305},{"t":94.8,"b":34,"r":168,"u":318},{"t":94.9,"b":11,"r":156,"u":307},{"t":95.0,"b":30,"r":166,"u":320},
      {"t":95.1,"b":7,"r":154,"u":305},{"t":95.2,"b":30,"r":164,"u":318},{"t":95.3,"b":9,"r":156,"u":306},{"t":95.4,"b":28,"r":168,"u":318},{"t":95.5,"b":6,"r":153,"u":304},
      {"t":95.6,"b":26,"r":166,"u":316},{"t":95.7,"b":10,"r":155,"u":306},{"t":95.8,"b":30,"r":165,"u":319},{"t":95.9,"b":8,"r":154,"u":305},{"t":96.0,"b":33,"r":168,"u":318},
      {"t":96.1,"b":10,"r":156,"u":306},{"t":96.2,"b":30,"r":163,"u":316},{"t":96.3,"b":7,"r":154,"u":304},{"t":96.4,"b":35,"r":166,"u":318},{"t":96.5,"b":12,"r":156,"u":307},
      {"t":96.6,"b":32,"r":166,"u":320},{"t":96.7,"b":9,"r":155,"u":305},{"t":96.8,"b":30,"r":168,"u":318},{"t":96.9,"b":11,"r":156,"u":306},{"t":97.0,"b":34,"r":164,"u":318},
      {"t":97.1,"b":8,"r":153,"u":305},{"t":97.2,"b":36,"r":166,"u":317},{"t":97.3,"b":10,"r":155,"u":306},{"t":97.4,"b":30,"r":166,"u":317},{"t":97.5,"b":12,"r":156,"u":307},
      {"t":97.6,"b":40,"r":168,"u":318},{"t":97.7,"b":9,"r":155,"u":305},{"t":97.8,"b":30,"r":162,"u":318},{"t":97.9,"b":6,"r":154,"u":304},{"t":98.0,"b":28,"r":166,"u":316},
      {"t":98.1,"b":8,"r":155,"u":305},{"t":98.2,"b":26,"r":165,"u":316},{"t":98.3,"b":5,"r":153,"u":303},{"t":98.4,"b":24,"r":164,"u":316},{"t":98.5,"b":7,"r":155,"u":305},
      {"t":98.6,"b":26,"r":163,"u":318},{"t":98.7,"b":9,"r":156,"u":306},{"t":98.8,"b":26,"r":166,"u":316},{"t":98.9,"b":6,"r":154,"u":304},{"t":99.0,"b":24,"r":166,"u":316},
      {"t":99.1,"b":8,"r":155,"u":305},{"t":99.2,"b":22,"r":165,"u":316},{"t":99.3,"b":5,"r":153,"u":303},{"t":99.4,"b":24,"r":164,"u":318},{"t":99.5,"b":7,"r":156,"u":306},
      {"t":99.6,"b":24,"r":168,"u":318},{"t":99.7,"b":9,"r":157,"u":307},{"t":99.8,"b":26,"r":168,"u":320},{"t":99.9,"b":10,"r":160,"u":310},{"t":100.0,"b":17,"r":171,"u":331}
    ]
  },
  "encoding": {
    "x": {
      "field": "t",
      "type": "quantitative",
      "scale": {"domain": [15, 105], "nice": false, "zero": false},
      "axis": {
        "title": "2θ\u00a0 (dgree)",
        "values": [20, 30, 40, 50, 60, 70, 80, 90, 100],
        "format": "d",
        "labelExpr": "datum.value % 20 === 0 ? datum.label : ''",
        "tickSize": {"condition": {"test": "datum.value % 20 === 0", "value": -31}, "value": -16},
        "labelFontSize": 110,
        "labelBaseline": "alphabetic",
        "labelPadding": 150,
        "titleFontSize": 110,
        "titleX": 1259,
        "titleY": 250,
        "titleAlign": "center",
        "titleBaseline": "alphabetic",
        "titleAngle": 0
      }
    },
    "y": {
      "field": "v",
      "type": "quantitative",
      "scale": {"domain": [-50, 1100], "nice": false, "zero": false},
      "axis": {
        "title": "Intensity",
        "values": [0, 100, 200, 300, 400, 500, 600, 700, 800, 900, 1000],
        "format": "d",
        "labelExpr": "datum.value % 200 === 0 ? datum.label : ''",
        "tickSize": {"condition": {"test": "datum.value % 200 === 0", "value": -31}, "value": -17},
        "labelFontSize": 102,
        "labelPadding": 63,
        "titleFontSize": 105,
        "titleX": -308,
        "titleY": 863,
        "titleAngle": 270,
        "titleAlign": "center",
        "titleBaseline": "alphabetic"
      }
    }
  },
  "layer": [
    {
      "transform": [{"fold": ["u", "r", "b"], "as": ["k", "v"]}],
      "mark": {"type": "line", "strokeWidth": 2.8},
      "encoding": {
        "color": {
          "field": "k",
          "type": "nominal",
          "scale": {"domain": ["b", "r", "u"], "range": ["#000000", "#ff0000", "#0000ff"]},
          "legend": {
            "title": null,
            "orient": "none",
            "legendX": 1227,
            "legendY": 550,
            "padding": 0,
            "symbolType": "stroke",
            "symbolSize": 38416,
            "symbolStrokeWidth": 3.5,
            "clipHeight": 90,
            "rowPadding": 20,
            "labelFontSize": 90,
            "labelColor": "black",
            "labelOffset": 22,
            "labelLimit": 0,
            "labelExpr": "datum.value === 'b' ? 'Before Aging' : datum.value === 'r' ? '700°C — 10,000 h' : '750°C — 5,000 h'"
          }
        }
      }
    },
    {
      "data": {
        "values": [
          {"t": 35.99, "v": 732}, {"t": 37.66, "v": 563}, {"t": 41.33, "v": 676}, {"t": 43.98, "v": 987},
          {"t": 47.79, "v": 472}, {"t": 50.58, "v": 459}, {"t": 75.42, "v": 418}, {"t": 78.76, "v": 996}
        ]
      },
      "mark": {"type": "point", "shape": "square", "filled": false, "color": "black", "strokeWidth": 3.5, "size": 1521, "opacity": 1}
    },
    {
      "data": {"values": [{"t": 41.74, "v": 878}, {"t": 60.57, "v": 419}, {"t": 78.76, "v": 900}]},
      "mark": {"type": "point", "shape": "triangle-up", "filled": false, "color": "black", "strokeWidth": 3.5, "size": 2800, "opacity": 1}
    },
    {
      "data": {"values": [{"t": 85.23, "v": 993.6, "s": "M"}, {"t": 90.83, "v": 993.6, "s": "C"}, {"t": 85.81, "v": 886.6, "s": "TiC"}]},
      "mark": {"type": "text", "fontSize": 85, "align": "left", "baseline": "alphabetic", "color": "black"},
      "encoding": {"text": {"field": "s", "type": "nominal"}}
    },
    {
      "data": {"values": [{"t": 88.55, "v": 968.6, "s": "23"}, {"t": 93.24, "v": 968.6, "s": "6"}]},
      "mark": {"type": "text", "fontSize": 48, "align": "left", "baseline": "alphabetic", "color": "black"},
      "encoding": {"text": {"field": "s", "type": "nominal"}}
    }
  ]
}
